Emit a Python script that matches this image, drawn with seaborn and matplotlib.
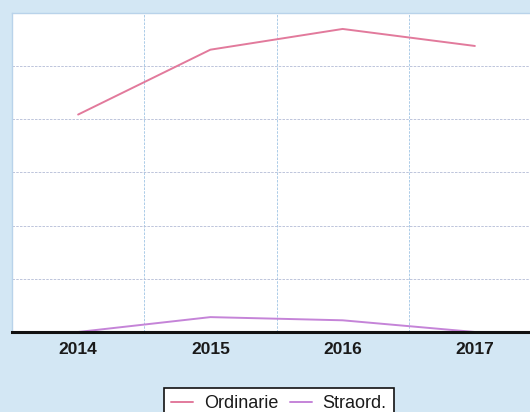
import pandas as pd
import seaborn as sns
import matplotlib.pyplot as plt

# Data (no y tick labels shown, scale 0-600)
years = ["2014", "2015", "2016", "2017"]
ordinarie = [409, 531, 570, 538]
straord = [0, 28, 22, 0]
series_names = ["Ordinarie", "Straord."]
colors = ["#e27a9c", "#c584d8"]

df = pd.DataFrame({
    "anno": years * 2,
    "valore": ordinarie + straord,
    "serie": [series_names[0]] * len(years) + [series_names[1]] * len(years),
})

sns.set_style("white")
plt.rcParams["font.family"] = ["Liberation Sans", "DejaVu Sans"]

fig = plt.figure(figsize=(5.3, 4.12), dpi=100)
fig.patch.set_facecolor("#d3e7f4")
ax = fig.add_axes([12 / 530, 80 / 412, 529 / 530, 319 / 412])
ax.set_facecolor("white")

sns.lineplot(data=df, x="anno", y="valore", hue="serie",
             palette=colors, linewidth=1.4, ax=ax, legend=False, sort=False)

ax.set_xlim(-0.5, 3.5)
ax.set_ylim(0, 600)
ax.set_yticks(range(0, 601, 100))
ax.set_yticklabels([])
ax.tick_params(axis="y", length=0)
ax.tick_params(axis="x", length=0, pad=7)
for lbl in ax.get_xticklabels():
    lbl.set_fontsize(12.5)
    lbl.set_fontweight("bold")
    lbl.set_color("#1a1a1a")

# grid: horizontal at values, vertical between categories
ax.grid(axis="y", color="#b3bcd6", linestyle=(0, (3, 1.5)), linewidth=0.6)
for xv in [0.5, 1.5, 2.5]:
    ax.axvline(xv, color="#9fc4e4", linestyle=(0, (3, 1.5)), linewidth=0.6, zorder=0)

ax.set_xlabel("")
ax.set_ylabel("")
for side in ["top", "left", "right"]:
    ax.spines[side].set_color("#b9d3ea")
    ax.spines[side].set_linewidth(1.0)
ax.spines["bottom"].set_color("#111111")
ax.spines["bottom"].set_linewidth(2.2)

handles = [plt.Line2D([], [], color=c, linewidth=1.4) for c in colors]
leg = fig.legend(handles, series_names, loc="upper left",
                 bbox_to_anchor=(155 / 530, 1 - 379 / 412),
                 ncol=2, frameon=True, fancybox=False, fontsize=13,
                 handlelength=1.2, columnspacing=0.65, borderpad=0.4,
                 handletextpad=0.6, framealpha=1)
leg.get_frame().set_edgecolor("#111111")
leg.get_frame().set_linewidth(1.2)
leg.get_frame().set_facecolor("white")
for t in leg.get_texts():
    t.set_color("#1a1a1a")

plt.savefig("out.png", dpi=100)
